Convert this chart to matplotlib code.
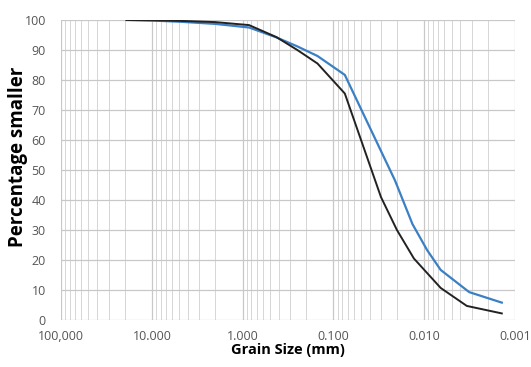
import matplotlib
matplotlib.use("Agg")
import matplotlib.pyplot as plt
from matplotlib.ticker import FixedLocator, LogLocator, NullFormatter

# Data
black_size = [19.0, 9.5, 4.75, 2.0, 0.85, 0.425, 0.25, 0.15, 0.075,
              0.03, 0.02, 0.013, 0.0066, 0.0034, 0.0014]
black_pct = [100, 99.9, 99.7, 99.3, 98.3, 94.3, 90.0, 85.5, 75.5,
             41, 30, 20.5, 10.7, 4.7, 2.2]

blue_size = [19.0, 9.5, 4.75, 2.0, 0.85, 0.425, 0.25, 0.15, 0.075,
             0.021, 0.0135, 0.0093, 0.0066, 0.0032, 0.0014]
blue_pct = [100, 99.8, 99.4, 98.7, 97.5, 94.2, 91.2, 88.0, 81.7,
            46.5, 32, 23.3, 16.7, 9.3, 5.8]

x_ticks = [100, 10, 1, 0.1, 0.01, 0.001]
x_ticklabels = ["100,000", "10.000", "1.000", "0.100", "0.010", "0.001"]
y_ticks = [0, 10, 20, 30, 40, 50, 60, 70, 80, 90, 100]

plt.rcParams['font.family'] = ['Open Sans', 'DejaVu Sans']

fig = plt.figure(figsize=(5.31, 3.67), dpi=100)
ax = fig.add_axes([0.115, 0.128, 0.855, 0.8175])

ax.plot(blue_size, blue_pct, color='#3b7fc4', lw=1.6, zorder=3)
ax.plot(black_size, black_pct, color='#222222', lw=1.4, zorder=4)

ax.set_xscale('log')
ax.set_xlim(100, 0.001)
ax.set_ylim(0, 100)

ax.xaxis.set_major_locator(FixedLocator(x_ticks))
ax.set_xticklabels(x_ticklabels)
ax.xaxis.set_minor_locator(LogLocator(base=10, subs=range(2, 10), numticks=20))
ax.xaxis.set_minor_formatter(NullFormatter())
ax.set_yticks(y_ticks)

ax.grid(True, which='major', axis='both', color='#c8c8c8', lw=0.9)
ax.grid(True, which='minor', axis='x', color='#d6d6d6', lw=0.7)
ax.set_axisbelow(True)

for s in ax.spines.values():
    s.set_visible(False)
ax.tick_params(axis='both', which='both', length=0, labelsize=9, labelcolor='#555555')
ax.tick_params(axis='x', pad=7)
ax.tick_params(axis='y', pad=11)

ax.set_xlabel('Grain Size (mm)', fontsize=10.5, fontweight='bold', labelpad=0)
ax.set_ylabel('Percentage smaller', fontsize=13.5, fontweight='bold')
ax.yaxis.set_label_coords(-0.073, 0.545)

fig.savefig('out.png', dpi=100)
